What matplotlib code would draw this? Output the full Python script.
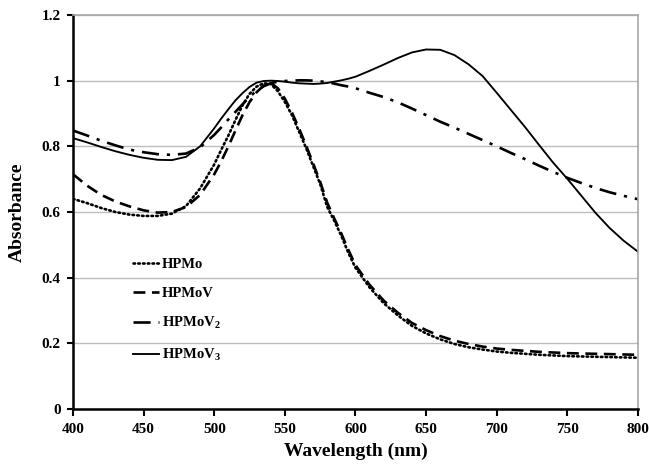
import matplotlib
matplotlib.use("Agg")
import matplotlib.pyplot as plt
from matplotlib.ticker import FuncFormatter

# ---------------- data ----------------
wavelength = [400, 410, 420, 430, 440, 450, 460, 470, 480, 490, 500,
              505, 510, 515, 520, 525, 530, 535, 540, 545, 550, 555, 560,
              565, 570, 575, 580, 585, 590, 595, 600, 610, 620, 630, 640,
              650, 660, 670, 680, 690, 700, 710, 720, 730, 740, 750, 760,
              770, 780, 790, 800]

hpmo = [0.640, 0.627, 0.612, 0.600, 0.592, 0.588, 0.588, 0.595, 0.618, 0.672,
        0.745, 0.790, 0.833, 0.880, 0.925, 0.960, 0.982, 0.992, 0.990, 0.968,
        0.935, 0.895, 0.845, 0.795, 0.740, 0.685, 0.615, 0.573, 0.527, 0.475,
        0.430, 0.370, 0.322, 0.285, 0.253, 0.230, 0.212, 0.198, 0.188, 0.181,
        0.175, 0.171, 0.168, 0.165, 0.163, 0.161, 0.160, 0.159, 0.158, 0.157,
        0.156]

hpmov = [0.715, 0.680, 0.652, 0.632, 0.617, 0.605, 0.598, 0.600, 0.615, 0.652,
         0.715, 0.755, 0.800, 0.848, 0.895, 0.935, 0.965, 0.985, 0.993, 0.977,
         0.945, 0.903, 0.855, 0.803, 0.748, 0.692, 0.628, 0.580, 0.534, 0.484,
         0.438, 0.378, 0.330, 0.293, 0.262, 0.240, 0.222, 0.208, 0.198, 0.190,
         0.184, 0.180, 0.177, 0.174, 0.172, 0.170, 0.169, 0.168, 0.167, 0.166,
         0.165]

hpmov2 = [0.848, 0.833, 0.817, 0.803, 0.790, 0.782, 0.776, 0.774, 0.778, 0.797,
          0.835, 0.858, 0.882, 0.905, 0.928, 0.950, 0.970, 0.983, 0.992, 0.997,
          0.999, 1.000, 1.001, 1.001, 1.000, 0.998, 0.995, 0.991, 0.986, 0.982,
          0.977, 0.963, 0.950, 0.934, 0.915, 0.895, 0.875, 0.857, 0.838, 0.819,
          0.800, 0.780, 0.761, 0.741, 0.722, 0.704, 0.688, 0.673, 0.660, 0.649,
          0.639]

hpmov3 = [0.825, 0.812, 0.798, 0.785, 0.774, 0.765, 0.759, 0.758, 0.768, 0.800,
          0.855, 0.885, 0.913, 0.940, 0.962, 0.981, 0.994, 0.999, 1.000, 0.999,
          0.997, 0.994, 0.992, 0.991, 0.990, 0.991, 0.993, 0.997, 1.001, 1.006,
          1.012, 1.030, 1.049, 1.069, 1.086, 1.095, 1.094, 1.078, 1.050, 1.014,
          0.963, 0.911, 0.859, 0.804, 0.750, 0.701, 0.649, 0.597, 0.551, 0.512,
          0.479]

series_labels = ["HPMo", "HPMoV", r"HPMoV$_{2}$", r"HPMoV$_{3}$"]
x_ticks = [400, 450, 500, 550, 600, 650, 700, 750, 800]
y_ticks = [0, 0.2, 0.4, 0.6, 0.8, 1.0, 1.2]

# ---------------- style ----------------
plt.rcParams['font.family'] = ['Liberation Serif', 'DejaVu Serif']
plt.rcParams['font.weight'] = 'bold'
plt.rcParams['mathtext.fontset'] = 'custom'
plt.rcParams['mathtext.rm'] = 'Liberation Serif:bold'
plt.rcParams['mathtext.it'] = 'Liberation Serif:bold'
plt.rcParams['mathtext.bf'] = 'Liberation Serif:bold'

fig = plt.figure(figsize=(6.49, 4.69), dpi=100)
ax = fig.add_axes([0.1125, 0.128, 0.8705, 0.840])

ax.plot(wavelength, hpmo, color='black', lw=1.9, linestyle=(0, (0.6, 1.2)),
        dash_capstyle='round', label=series_labels[0])
ax.plot(wavelength, hpmov, color='black', lw=1.9, linestyle=(0, (4.5, 2.5)),
        label=series_labels[1])
ax.plot(wavelength, hpmov2, color='black', lw=1.9,
        linestyle=(0, (6.5, 3.0, 1.2, 3.0)), label=series_labels[2])
ax.plot(wavelength, hpmov3, color='black', lw=1.35, linestyle='-',
        label=series_labels[3])

ax.set_xlim(400, 800)
ax.set_ylim(0, 1.2)
ax.set_xticks(x_ticks)
ax.set_yticks(y_ticks)
ax.yaxis.set_major_formatter(FuncFormatter(lambda v, p: f"{v:g}"))

ax.grid(axis='y', color='#bdbdbd', lw=1.0)
ax.set_axisbelow(True)

for s in ['top', 'right']:
    ax.spines[s].set_color('#a8a8a8')
    ax.spines[s].set_linewidth(1.2)
for s in ['left', 'bottom']:
    ax.spines[s].set_color('black')
    ax.spines[s].set_linewidth(1.8)

ax.tick_params(axis='both', direction='out', colors='black', width=1.5,
               labelsize=11, pad=5)
ax.tick_params(axis='x', length=5)
ax.tick_params(axis='y', length=4)
for lab in ax.get_xticklabels() + ax.get_yticklabels():
    lab.set_fontweight('bold')

ax.set_xlabel("Wavelength (nm)", fontsize=14, fontweight='bold', labelpad=5)
ax.set_ylabel("Absorbance", fontsize=14, fontweight='bold', labelpad=11)

leg = ax.legend(loc='upper left', bbox_to_anchor=(0.083, 0.416), frameon=False,
                handlelength=1.75, handletextpad=0.25, labelspacing=1.05,
                prop={'family': 'Liberation Serif', 'weight': 'bold', 'size': 10.5})

fig.savefig("out.png", dpi=100)
